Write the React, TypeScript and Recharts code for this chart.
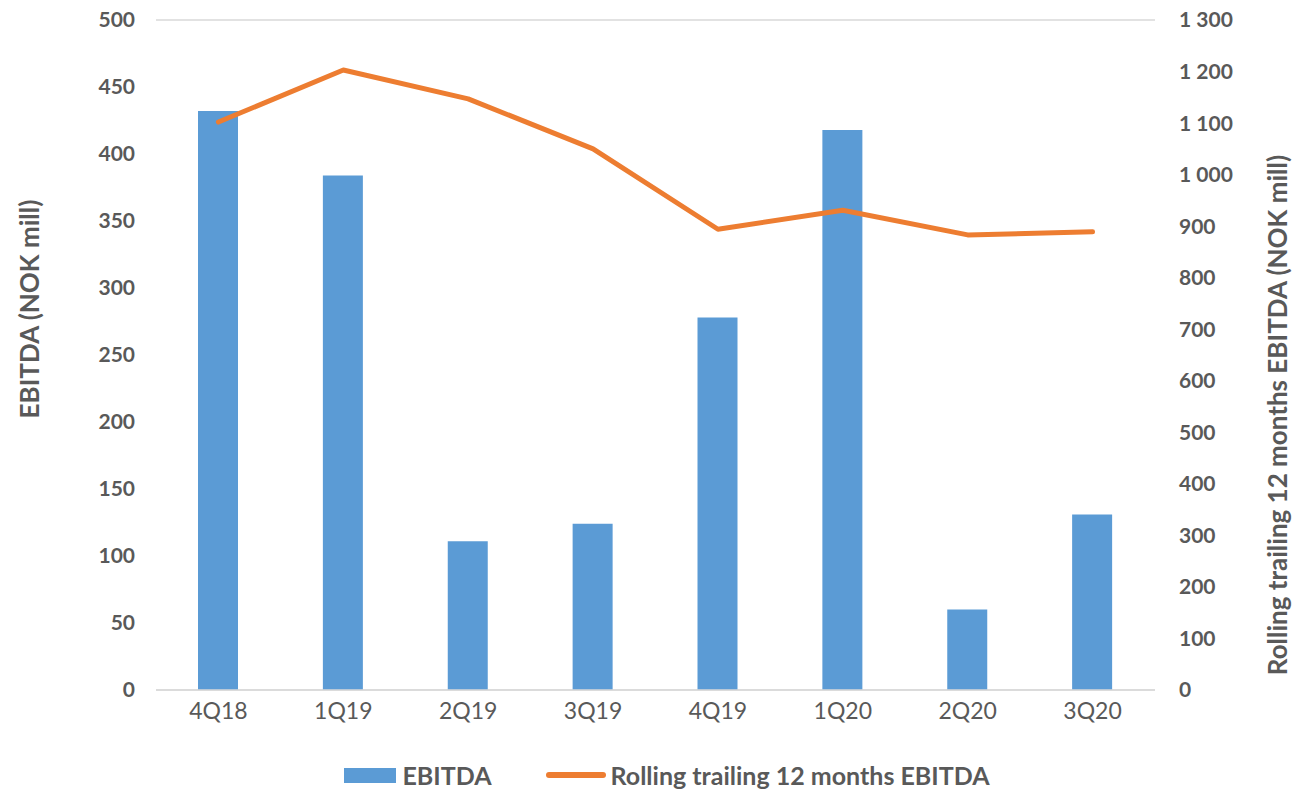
import React from 'react';
import { ComposedChart, Bar, Line, XAxis, YAxis, CartesianGrid, Legend, Label } from 'recharts';

const quarters = ['4Q18', '1Q19', '2Q19', '3Q19', '4Q19', '1Q20', '2Q20', '3Q20'];
const ebitda = [432, 384, 111, 124, 278, 418, 60, 131];
const rolling = [1102, 1203, 1147, 1050, 894, 931, 883, 889];
const leftTicks = [0, 50, 100, 150, 200, 250, 300, 350, 400, 450, 500];
const rightTicks = [0, 100, 200, 300, 400, 500, 600, 700, 800, 900, 1000, 1100, 1200, 1300];

const FONT = 'Lato, "Open Sans", sans-serif';
const GREY = '#595959';
const BLUE = '#5B9BD5';
const ORANGE = '#ED7D31';

const data = quarters.map((q, i) => ({ name: q, ebitda: ebitda[i], rolling: rolling[i] }));

// 1 300 style thousands separator
const fmtSpace = (v: number) => String(v).replace(/\B(?=(\d{3})+(?!\d))/g, ' ');

const LegendBox = () => (
  <div style={{ display: 'flex', justifyContent: 'center', alignItems: 'center', fontFamily: FONT, fontSize: 25, fontWeight: 700, color: GREY, paddingLeft: 40 }}>
    <span style={{ display: 'inline-block', width: 52, height: 15, background: BLUE, marginRight: 6 }} />
    <span style={{ marginRight: 54 }}>EBITDA</span>
    <span style={{ display: 'inline-block', width: 60, height: 6, borderRadius: 3, background: ORANGE, marginRight: 5 }} />
    <span>Rolling trailing 12 months EBITDA</span>
  </div>
);

const AxisTitle = ({ viewBox, value, x, shift }: any) => {
  const cy = viewBox.y + viewBox.height / 2 + shift;
  return (
    <text x={x} y={cy} transform={`rotate(-90 ${x} ${cy})`} textAnchor="middle" dominantBaseline="central"
      fill={GREY} fontFamily={FONT} fontSize={26} fontWeight={700}>
      {value}
    </text>
  );
};

export default function App() {
  return (
    <div style={{ position: 'absolute', left: 0, top: 0, width: 1294, height: 791, background: '#fff' }}>
      <ComposedChart width={1294} height={791} data={data} margin={{ top: 20, right: 0, left: 0, bottom: 21 }}>
        <CartesianGrid vertical={false} stroke="#d9d9d9" strokeWidth={1.5} />
        <XAxis dataKey="name" axisLine={{ stroke: '#d9d9d9', strokeWidth: 1.5 }} tickLine={false} tickSize={0} tickMargin={13}
          height={50} tick={{ fill: GREY, fontFamily: FONT, fontSize: 23 }} />
        <YAxis yAxisId="left" width={156} domain={[0, 500]} ticks={leftTicks} axisLine={false} tickLine={false}
          tickSize={0} tickMargin={21} tick={{ fill: GREY, fontFamily: FONT, fontSize: 21, fontWeight: 700 }}>
          <Label content={(p: any) => <AxisTitle {...p} value="EBITDA (NOK mill)" x={29} shift={-46} />} />
        </YAxis>
        <YAxis yAxisId="right" orientation="right" width={139} domain={[0, 1300]} ticks={rightTicks} axisLine={false}
          tickLine={false} tickSize={0} tickMargin={24} tickFormatter={fmtSpace}
          tick={{ fill: GREY, fontFamily: FONT, fontSize: 21, fontWeight: 700, textAnchor: 'start' }}>
          <Label content={(p: any) => <AxisTitle {...p} value="Rolling trailing 12 months EBITDA (NOK mill)" x={1277} shift={60} />} />
        </YAxis>
        <Legend verticalAlign="bottom" height={30} wrapperStyle={{ bottom: 1 }} content={() => <LegendBox />} />
        <Bar yAxisId="left" dataKey="ebitda" fill={BLUE} barSize={40} isAnimationActive={false} />
        <Line yAxisId="right" dataKey="rolling" stroke={ORANGE} strokeWidth={5} dot={false} activeDot={false}
          strokeLinecap="round" strokeLinejoin="round" isAnimationActive={false} />
      </ComposedChart>
    </div>
  );
}
